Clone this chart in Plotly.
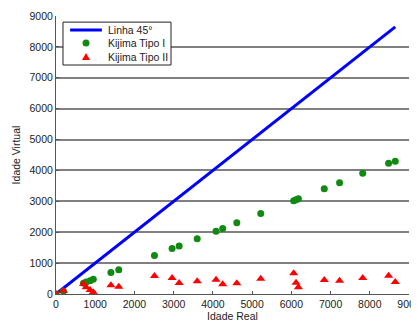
import plotly.graph_objects as go

idade_real = [0, 190, 700, 770, 870, 950, 1400, 1600, 2510, 2960, 3140, 3600,
              4080, 4250, 4610, 5220, 6060, 6120, 6180, 6840, 7230, 7820, 8480, 8650]
tipo1 = [0, 90, 345, 390, 432, 475, 692, 789, 1243, 1471, 1558, 1786,
         2032, 2120, 2305, 2607, 3019, 3051, 3084, 3409, 3604, 3906, 4231, 4295]
tipo2 = [0, 107, 330, 220, 130, 60, 280, 237, 584, 519, 357, 410,
         464, 313, 345, 497, 670, 367, 216, 454, 432, 519, 594, 390]
linha_x = [0, 8650]
linha_y = [0, 8650]
nomes = ["Linha 45°", "Kijima Tipo I", "Kijima Tipo II"]
cores = ["#0000ff", "#118a11", "#ff0000"]

fig = go.Figure()
fig.add_trace(go.Scatter(x=linha_x, y=linha_y, mode="lines", name=nomes[0],
                         line=dict(color=cores[0], width=3)))
fig.add_trace(go.Scatter(x=idade_real, y=tipo1, mode="markers", name=nomes[1],
                         marker=dict(color=cores[1], size=7, symbol="circle")))
fig.add_trace(go.Scatter(x=idade_real, y=tipo2, mode="markers", name=nomes[2],
                         marker=dict(color=cores[2], size=8, symbol="triangle-up")))

# compact MATLAB-style legend
shapes = [
    dict(type="rect", xref="paper", yref="paper", x0=0.0198, x1=0.3258,
         y0=0.8237, y1=0.978, line=dict(color="#222", width=1), fillcolor="white",
         layer="above"),
    dict(type="line", xref="paper", yref="paper", x0=0.040, x1=0.130,
         y0=0.9496, y1=0.9496, line=dict(color=cores[0], width=3), layer="above"),
    dict(type="circle", xref="paper", yref="paper", xsizemode="pixel", ysizemode="pixel",
         xanchor=0.085, yanchor=0.9029, x0=-3.5, x1=3.5, y0=-3.5, y1=3.5,
         fillcolor=cores[1], line=dict(width=0), layer="above"),
    dict(type="path", xref="paper", yref="paper", xsizemode="pixel", ysizemode="pixel",
         xanchor=0.085, yanchor=0.8525, path="M -4,-3 L 4,-3 L 0,4 Z",
         fillcolor=cores[2], line=dict(width=0), layer="above"),
]
annotations = []
for nome, yy in zip(nomes, [0.9496, 0.9029, 0.8525]):
    annotations.append(dict(text=nome, xref="paper", yref="paper", x=0.1416, y=yy,
                            xanchor="left", yanchor="middle", showarrow=False,
                            font=dict(size=10.5, color="#222")))

fig.update_layout(
    width=411, height=315,
    margin=dict(l=48, r=10, t=8, b=29),
    paper_bgcolor="white", plot_bgcolor="white",
    font=dict(family="Liberation Sans, Arial, sans-serif", size=10.5, color="#222"),
    showlegend=False,
    shapes=shapes, annotations=annotations,
    xaxis=dict(range=[0, 9000], tickvals=list(range(0, 9001, 1000)),
               showgrid=False, showline=True, linecolor="#555", linewidth=1,
               ticks="inside", ticklen=3, tickcolor="#555", zeroline=False,
               ticklabeloverflow="allow", automargin=False,
               title=dict(text="Idade Real", standoff=2, font=dict(size=10.5))),
    yaxis=dict(range=[0, 9000], tickvals=list(range(0, 9001, 1000)),
               showgrid=True, gridcolor="#808080", gridwidth=1.5,
               showline=True, linecolor="#555", linewidth=1, automargin=False,
               ticklabeloverflow="allow",
               ticks="inside", ticklen=3, tickcolor="#555", zeroline=False,
               title=dict(text="Idade Virtual", standoff=6, font=dict(size=10.5))),
)

fig.write_html("out.html")
